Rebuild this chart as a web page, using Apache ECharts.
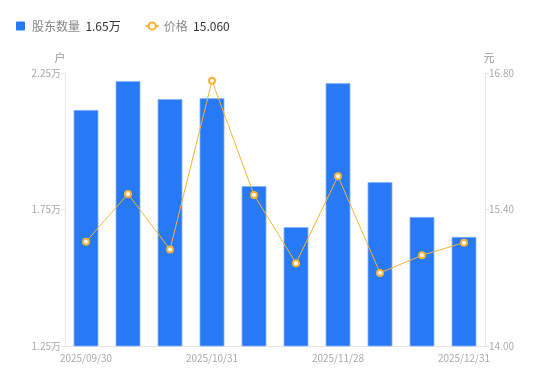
<!DOCTYPE html>
<html><head><meta charset="utf-8">
<script src="https://cdn.jsdelivr.net/npm/echarts@6/dist/echarts.min.js"></script>
<style>html,body{margin:0;padding:0;background:#fff}#c{width:550px;height:381px}</style>
</head><body><div id="c"></div>
<script>
const categories = ['2025/09/30','2025/10/10','2025/10/20','2025/10/31','2025/11/10','2025/11/20','2025/11/28','2025/12/10','2025/12/20','2025/12/31'];
const holders = [21150, 22210, 21550, 21580, 18360, 16860, 22130, 18510, 17230, 16500];
const prices = [15.07, 15.56, 14.99, 16.72, 15.55, 14.85, 15.74, 14.75, 14.93, 15.06];
const leftTicks = [12500, 22500, 5000];
const rightTicks = [14.0, 16.8, 1.4];

const chart = echarts.init(document.getElementById('c'));
const font = '"Noto Sans CJK SC", "Noto Sans", sans-serif';
chart.setOption({
  animation: false,
  textStyle: {fontFamily: font},
  legend: {
    left: 11, top: 15, itemWidth: 13, itemHeight: 9, itemGap: 24, symbolKeepAspect: true,
    data: [{name: '股东数量', icon: 'path://M1,0L9,0Q10,0 10,1L10,9Q10,10 9,10L1,10Q0,10 0,9L0,1Q0,0 1,0Z', itemStyle: {borderWidth: 0}}, {name: '价格'}],
    formatter: function(n){
      const v = n === '股东数量' ? (holders[holders.length-1]/10000).toFixed(2)+'万' : prices[prices.length-1].toFixed(3);
      return '{a|' + n + '}  {b|' + v + '}';
    },
    textStyle: {rich: {a: {color: '#888', fontSize: 12, fontFamily: font}, b: {color: '#333', fontSize: 12, fontFamily: font}}}
  },
  grid: {left: 65, right: 65, top: 73, bottom: 35},
  xAxis: {
    type: 'category', data: categories,
    axisLine: {lineStyle: {color: '#e6e6e6'}},
    axisTick: {show: false},
    axisLabel: {color: '#aaa', fontSize: 10, interval: 2, margin: 7}
  },
  yAxis: [{
    type: 'value', min: leftTicks[0], max: leftTicks[1], interval: leftTicks[2],
    name: '户', nameTextStyle: {color: '#999', fontSize: 11, padding: [0, 10, 0, 0]}, nameGap: 10,
    axisLine: {show: true, lineStyle: {color: '#e6e6e6'}},
    axisTick: {show: true, length: 4, lineStyle: {color: '#e6e6e6'}},
    splitLine: {show: false},
    axisLabel: {color: '#aaa', fontSize: 10, margin: 4, formatter: v => (v/10000).toFixed(2)+'万'}
  },{
    type: 'value', min: rightTicks[0], max: rightTicks[1], interval: rightTicks[2],
    name: '元', nameTextStyle: {color: '#999', fontSize: 11, padding: [0, 0, 0, 8]}, nameGap: 10,
    axisLine: {show: true, lineStyle: {color: '#e6e6e6'}},
    axisTick: {show: true, length: 4, lineStyle: {color: '#e6e6e6'}},
    splitLine: {show: false},
    axisLabel: {color: '#aaa', fontSize: 10, margin: 4, formatter: v => v.toFixed(2)}
  }],
  series: [{
    name: '股东数量', type: 'bar', data: holders, barWidth: 25, yAxisIndex: 0,
    itemStyle: {color: '#2779F5', borderColor: 'rgba(140,180,250,0.8)', borderWidth: 1}
  },{
    name: '价格', type: 'line', data: prices, yAxisIndex: 1,
    symbol: 'emptyCircle', symbolSize: 6,
    lineStyle: {color: '#F7B538', width: 1},
    itemStyle: {color: '#F7B538', borderWidth: 2}
  }]
});
</script></body></html>
